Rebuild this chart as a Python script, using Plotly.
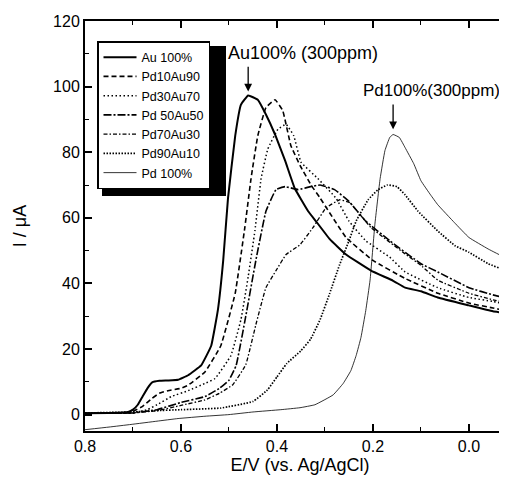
import plotly.graph_objects as go

# ---------------- data ----------------
names = ["Au 100%", "Pd10Au90", "Pd30Au70", "Pd 50Au50", "Pd70Au30", "Pd90Au10", "Pd 100%"]

au100_x = [0.80, 0.75, 0.71, 0.70, 0.69, 0.68, 0.67, 0.66, 0.645, 0.627, 0.606, 0.585, 0.558, 0.537, 0.523,
           0.512, 0.502, 0.487, 0.475, 0.46, 0.44, 0.423, 0.404, 0.383, 0.363, 0.335, 0.319, 0.29, 0.256,
           0.204, 0.158, 0.133, 0.1, 0.065, 0.0, -0.05, -0.1]
au100_y = [0.4, 0.5, 0.8, 1.5, 3.0, 5.5, 8.0, 9.8, 10.3, 10.4, 10.6, 12.0, 15.0, 21.0, 32.0,
           47.0, 66.0, 85.0, 94.5, 97.3, 96.0, 91.5, 85.4, 77.4, 69.0, 62.0, 59.0, 53.5, 48.8,
           43.9, 40.8, 38.7, 37.6, 35.7, 33.3, 31.5, 30.5]

pd10_x = [0.80, 0.72, 0.70, 0.68, 0.66, 0.645, 0.627, 0.60, 0.585, 0.55, 0.517, 0.487, 0.467, 0.454,
          0.44, 0.423, 0.404, 0.388, 0.371, 0.352, 0.329, 0.31, 0.256, 0.2, 0.133, 0.065, 0.0, -0.05, -0.1]
pd10_y = [0.4, 0.5, 1.0, 2.5, 5.0, 6.5, 7.3, 8.0, 9.0, 13.0, 21.0, 37.0, 57.0, 72.0,
          85.0, 93.6, 96.0, 92.7, 82.0, 76.0, 70.0, 66.0, 54.0, 47.0, 41.5, 37.0, 34.0, 32.5, 31.0]

pd30_x = [0.80, 0.70, 0.67, 0.65, 0.62, 0.585, 0.55, 0.529, 0.496, 0.475, 0.46, 0.446, 0.433, 0.419,
          0.398, 0.381, 0.365, 0.35, 0.315, 0.277, 0.25, 0.215, 0.165, 0.133, 0.065, 0.0, -0.05, -0.1]
pd30_y = [0.4, 0.5, 1.5, 3.0, 5.5, 7.3, 9.5, 11.0, 18.0, 29.0, 42.0, 56.0, 72.0, 81.0,
          87.0, 88.5, 85.0, 77.0, 72.0, 66.0, 59.0, 53.0, 48.0, 43.5, 38.7, 35.7, 34.5, 33.0]

pd50_x = [0.80, 0.70, 0.65, 0.60, 0.55, 0.52, 0.50, 0.485, 0.465, 0.444, 0.423, 0.402, 0.383, 0.356,
          0.33, 0.31, 0.28, 0.25, 0.215, 0.165, 0.1, 0.065, 0.0, -0.05, -0.1]
pd50_y = [0.4, 0.5, 1.5, 3.7, 5.5, 8.0, 10.5, 15.0, 30.0, 47.0, 62.0, 68.6, 69.5, 68.6,
          69.5, 70.0, 68.6, 65.0, 59.0, 53.0, 46.0, 43.5, 38.7, 36.5, 34.8]

pd70_x = [0.80, 0.70, 0.65, 0.60, 0.55, 0.52, 0.492, 0.465, 0.444, 0.423, 0.402, 0.381, 0.352, 0.325,
          0.298, 0.269, 0.248, 0.227, 0.204, 0.133, 0.1, 0.065, 0.0, -0.05, -0.1]
pd70_y = [0.4, 0.5, 1.2, 2.8, 4.5, 6.5, 9.1, 15.2, 27.4, 38.7, 43.9, 48.8, 51.8, 57.0,
          63.0, 65.5, 64.6, 61.0, 57.0, 49.0, 45.5, 41.0, 37.0, 35.0, 33.5]

pd90_x = [0.80, 0.70, 0.654, 0.60, 0.517, 0.45, 0.42, 0.40, 0.38, 0.35, 0.33, 0.31, 0.29, 0.27, 0.25,
          0.235, 0.21, 0.19, 0.17, 0.15, 0.133, 0.106, 0.065, 0.029, 0.0, -0.04, -0.075, -0.1]
pd90_y = [0.5, 0.8, 1.2, 1.5, 2.0, 4.0, 7.5, 11.5, 15.5, 19.5, 23.0, 29.0, 37.0, 45.5, 53.0,
          59.0, 65.5, 68.5, 70.0, 69.5, 67.0, 62.0, 56.0, 51.5, 49.5, 46.0, 44.0, 42.0]

pd100_x = [0.80, 0.75, 0.704, 0.65, 0.606, 0.55, 0.50, 0.45, 0.392, 0.352, 0.321, 0.283, 0.262, 0.246,
           0.235, 0.225, 0.215, 0.206, 0.196, 0.185, 0.175, 0.165, 0.158, 0.145, 0.133, 0.115, 0.1,
           0.08, 0.065, 0.03, 0.0, -0.04, -0.075, -0.1]
pd100_y = [-4.6, -3.8, -3.0, -2.0, -1.2, -0.5, 0.0, 0.8, 1.5, 2.1, 3.0, 6.0, 9.5, 13.4,
           18.0, 23.5, 31.7, 41.0, 58.0, 72.0, 80.5, 84.5, 85.4, 84.5, 81.4, 76.5, 71.3,
           67.0, 64.0, 58.5, 54.0, 50.5, 47.9, 46.5]

xs = [au100_x, pd10_x, pd30_x, pd50_x, pd70_x, pd90_x, pd100_x]
ys = [au100_y, pd10_y, pd30_y, pd50_y, pd70_y, pd90_y, pd100_y]

x_ticks = [0.8, 0.6, 0.4, 0.2, 0.0]
x_tick_text = ["0.8", "0.6", "0.4", "0.2", "0.0"]
y_ticks = [0, 20, 40, 60, 80, 100, 120]

# ---------------- styles ----------------
styles = [
    dict(width=2.0, dash="solid"),
    dict(width=1.6, dash="5px,3px"),
    dict(width=1.5, dash="1.5px,2.5px"),
    dict(width=1.6, dash="8px,2px,2px,2px"),
    dict(width=1.3, dash="4px,2px,1.5px,2px"),
    dict(width=1.7, dash="1.5px,1.5px"),
    dict(width=0.8, dash="solid"),
]

FONT = "Arial, 'Liberation Sans', Helvetica, sans-serif"

fig = go.Figure()
for n, x, y, s in zip(names, xs, ys, styles):
    fig.add_trace(go.Scatter(x=x, y=y, mode="lines", name=n,
                             line=dict(color="black", width=s["width"], dash=s["dash"],
                                       shape="spline", smoothing=0.3)))

# invisible trace carrying the right-hand tick axis
fig.add_trace(go.Scatter(x=[0.8], y=[0], yaxis="y2", mode="markers", marker=dict(opacity=0),
                         showlegend=False, hoverinfo="skip"))

fig.update_layout(
    width=507, height=483,
    margin=dict(l=77, r=0, t=13, b=60),
    paper_bgcolor="white", plot_bgcolor="white",
    font=dict(family=FONT, color="black", size=16),
    showlegend=True,
    legend=dict(x=(89 - 77) / 430, y=1 - (33 - 13) / 410, xanchor="left", yanchor="top",
                bgcolor="white", bordercolor="black", borderwidth=1.5,
                font=dict(size=12.5, family=FONT), itemwidth=33, tracegroupgap=0),
    xaxis=dict(range=[0.8, -0.096], tickvals=x_ticks, ticktext=x_tick_text,
               ticks="inside", ticklen=7, tickwidth=1.5, tickcolor="black",
               minor=dict(dtick=0.1, tick0=0, ticks="inside", ticklen=4, tickwidth=1.2, tickcolor="black"),
               showline=True, linecolor="black", linewidth=2, mirror="ticks",
               showgrid=False, zeroline=False,
               tickfont=dict(size=16),
               title=dict(text="E/V (vs. Ag/AgCl)", font=dict(size=18), standoff=4)),
    yaxis=dict(range=[-5, 120], tickvals=y_ticks,
               ticks="inside", ticklen=7, tickwidth=1.5, tickcolor="black",
               minor=dict(dtick=10, tick0=0, ticks="inside", ticklen=4, tickwidth=1.2, tickcolor="black"),
               showline=True, linecolor="black", linewidth=2, mirror=False,
               showgrid=False, zeroline=False,
               tickfont=dict(size=16),
               title=dict(text="I / μA", font=dict(size=18), standoff=22)),
    yaxis2=dict(range=[-5, 120], overlaying="y", side="right", tickvals=y_ticks, showticklabels=False,
                ticks="inside", ticklen=7, tickwidth=1.5, tickcolor="black",
                minor=dict(dtick=10, tick0=0, ticks="inside", ticklen=4, tickwidth=1.2, tickcolor="black"),
                showline=False, showgrid=False, zeroline=False),
)

# legend drop shadow (drawn under the legend, peeks out right and below)
fig.add_shape(type="rect", xref="paper", yref="paper",
              x0=(94 - 77) / 430, x1=(218 - 77) / 430,
              y0=1 - (188 - 13) / 410, y1=1 - (38 - 13) / 410,
              fillcolor="black", line=dict(width=0), layer="above")

# annotations
fig.add_annotation(x=0.46, y=98.5, ax=0.46, ay=106.5, xref="x", yref="y", axref="x", ayref="y",
                   text="", showarrow=True, arrowhead=2, arrowsize=1.2, arrowwidth=1.3, arrowcolor="black")
fig.add_annotation(x=0.346, y=110.2, xref="x", yref="y", text="Au100% (300ppm)", showarrow=False,
                   font=dict(size=18, family=FONT))
fig.add_annotation(x=0.158, y=87.0, ax=0.158, ay=95.0, xref="x", yref="y", axref="x", ayref="y",
                   text="", showarrow=True, arrowhead=2, arrowsize=1.2, arrowwidth=1.3, arrowcolor="black")
fig.add_annotation(x=0.077, y=98.8, xref="x", yref="y", text="Pd100%(300ppm)", showarrow=False,
                   font=dict(size=17, family=FONT))

fig.write_html("out.html")
